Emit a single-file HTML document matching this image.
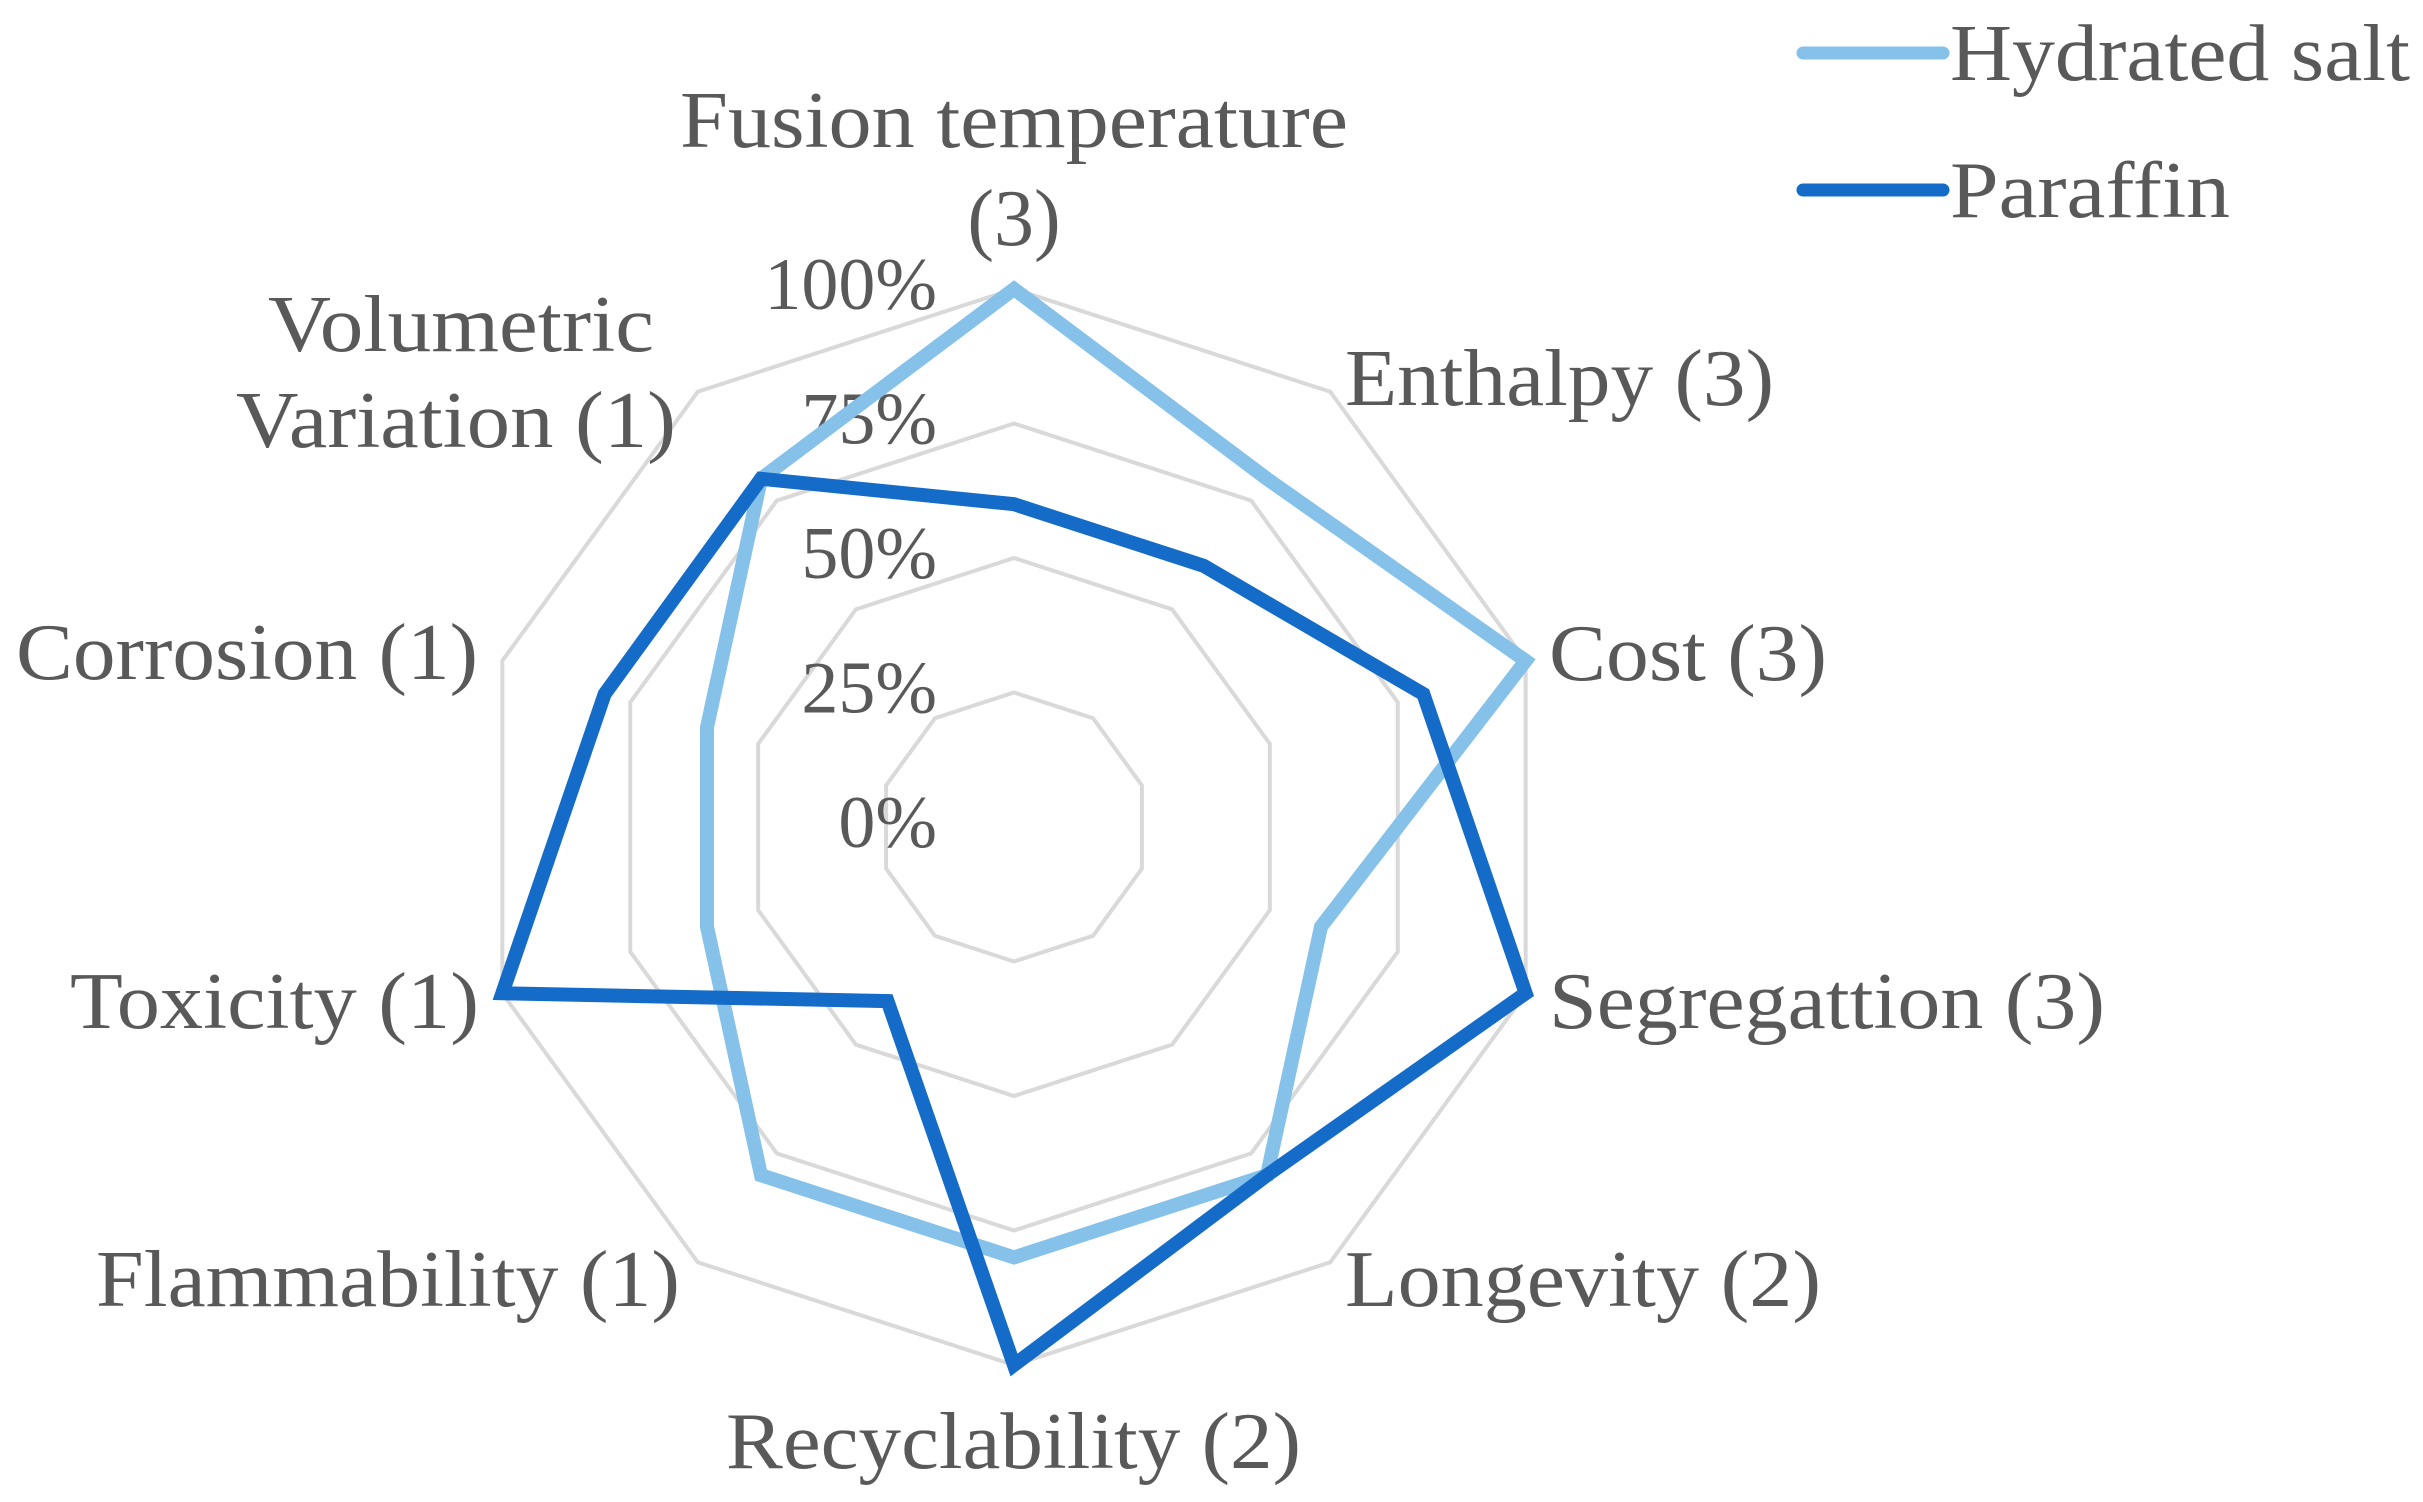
<!DOCTYPE html>
<html><head><meta charset="utf-8"><style>
html,body{margin:0;padding:0;background:#fff;}
svg{display:block;}
text{font-family:"Liberation Serif",serif;fill:#595959;}
</style></head><body>
<svg id="chart" width="2423" height="1502" viewBox="0 0 2423 1502" xmlns="http://www.w3.org/2000/svg">
<g id="grid"></g>
<g id="ticks"></g>
<g id="series"></g>
<g id="cats">
<text x="1014" y="147" font-size="80" text-anchor="middle" textLength="668" lengthAdjust="spacingAndGlyphs">Fusion temperature</text>
<text x="1014" y="245" font-size="80" text-anchor="middle">(3)</text>
<text x="1345" y="405" font-size="80" textLength="429" lengthAdjust="spacingAndGlyphs">Enthalpy (3)</text>
<text x="1549" y="680" font-size="80" textLength="278" lengthAdjust="spacingAndGlyphs">Cost (3)</text>
<text x="1549" y="1028" font-size="80" textLength="556" lengthAdjust="spacingAndGlyphs">Segregattion (3)</text>
<text x="1345" y="1306" font-size="80" textLength="476" lengthAdjust="spacingAndGlyphs">Longevity (2)</text>
<text x="726" y="1468" font-size="80" textLength="575" lengthAdjust="spacingAndGlyphs">Recyclability (2)</text>
<text x="96" y="1306" font-size="80" textLength="584" lengthAdjust="spacingAndGlyphs">Flammability (1)</text>
<text x="70" y="1028" font-size="80" textLength="409" lengthAdjust="spacingAndGlyphs">Toxicity (1)</text>
<text x="16" y="679" font-size="80" textLength="462" lengthAdjust="spacingAndGlyphs">Corrosion (1)</text>
<text x="268" y="351" font-size="80" textLength="386" lengthAdjust="spacingAndGlyphs">Volumetric</text>
<text x="236" y="447" font-size="80" textLength="440" lengthAdjust="spacingAndGlyphs">Variation (1)</text>
</g>
<g>
<line x1="1803" y1="53" x2="1943" y2="53" stroke="#85c1e9" stroke-width="13" stroke-linecap="round"/>
<text x="1950" y="80" font-size="80" textLength="460" lengthAdjust="spacingAndGlyphs">Hydrated salt</text>
<line x1="1803" y1="190" x2="1943" y2="190" stroke="#146cc8" stroke-width="13" stroke-linecap="round"/>
<text x="1950" y="217" font-size="80" textLength="280" lengthAdjust="spacingAndGlyphs">Paraffin</text>
</g>
</svg>
<script>
const categories = ["Fusion temperature (3)","Enthalpy (3)","Cost (3)","Segregattion (3)","Longevity (2)","Recyclability (2)","Flammability (1)","Toxicity (1)","Corrosion (1)","Volumetric Variation (1)"];
const hydratedSalt = [100,80,100,60,80,80,80,60,60,80];
const paraffin = [60,60,80,100,80,100,40,100,80,80];
const tickValues = [0,25,50,75,100];
const tickLabels = ["0%","25%","50%","75%","100%"];

const NS = "http://www.w3.org/2000/svg";
const cx = 1014, cy = 827, R = 538;
function rScale(v){ return v/100*R; }
function pt(i, v){
  const a = i*2*Math.PI/categories.length;
  const r = rScale(v);
  return [cx + r*Math.sin(a), cy - r*Math.cos(a)];
}
const grid = document.getElementById('grid');
tickValues.forEach((t) => {
  if (t === 0) return;
  const p = document.createElementNS(NS,'polygon');
  
  
  p.setAttribute('points', categories.map((c,i)=>pt(i, t).join(',')).join(' '));
  p.setAttribute('fill','none');
  p.setAttribute('stroke','#d9d9d9');
  p.setAttribute('stroke-width','4');
  grid.appendChild(p);
});
const ticks = document.getElementById('ticks');
tickValues.forEach((t, k) => {
  const tx = document.createElementNS(NS,'text');
  
  
  tx.setAttribute('x', 937);
  tx.setAttribute('y', cy - rScale(t) + 20);
  tx.setAttribute('font-size', '74');
  tx.setAttribute('text-anchor', 'end');
  tx.textContent = tickLabels[k];
  ticks.appendChild(tx);
});
const series = document.getElementById('series');
function drawSeries(vals, color, name){
  const p = document.createElementNS(NS,'polygon');
  
  
  p.setAttribute('points', vals.map((v,i)=>pt(i,v).join(',')).join(' '));
  p.setAttribute('fill','none');
  p.setAttribute('stroke',color);
  p.setAttribute('stroke-width','14');
  p.setAttribute('stroke-linejoin','miter');
  series.appendChild(p);
}
drawSeries(hydratedSalt, '#85c1e9', 'series-hydrated-salt');
drawSeries(paraffin, '#146cc8', 'series-paraffin');
</script>
</body></html>
